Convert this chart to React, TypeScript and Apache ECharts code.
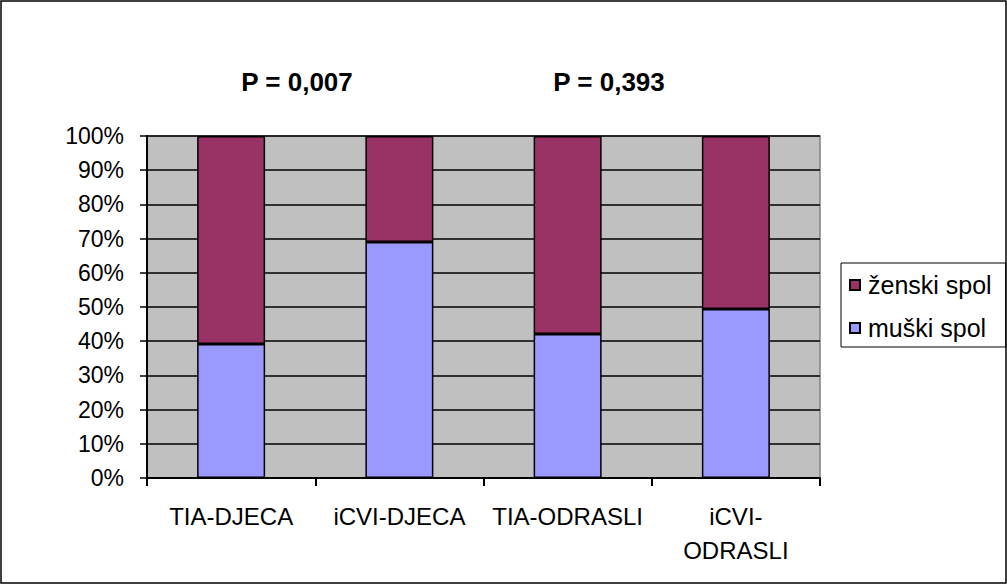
import React, { useEffect, useRef } from "react";
import * as echarts from "echarts";

const categories = ["TIA-DJECA", "iCVI-DJECA", "TIA-ODRASLI", "iCVI-ODRASLI"];
const muskiSpol = [39.2, 69.0, 42.1, 49.4];
const zenskiSpol = [60.8, 31.0, 57.9, 50.6];
const seriesNames = ["ženski spol", "muški spol"];
const pValues = ["P = 0,007", "P = 0,393"];
const pPositions = [297, 609];

const FONT = "'Liberation Sans', Arial, sans-serif";

export default function App() {
  const ref = useRef<HTMLDivElement>(null);
  useEffect(() => {
    document.body.style.margin = "0";
    if (!ref.current) return;
    const chart = echarts.init(ref.current, undefined, { renderer: "svg" });
    chart.setOption({
      animation: false,
      backgroundColor: "#ffffff",
      textStyle: { fontFamily: FONT },
      grid: {
        left: 147,
        right: 187,
        top: 136,
        bottom: 106,
        show: true,
        backgroundColor: "#C0C0C0",
        borderColor: "#808080",
        borderWidth: 1.5,
      },
      legend: {
        orient: "vertical",
        left: 841,
        top: 263,
        data: seriesNames,
        icon: "rect",
        itemWidth: 10,
        itemHeight: 10,
        itemGap: 15,
        borderColor: "#000",
        borderWidth: 1,
        padding: [8, 14, 5, 8],
        textStyle: {
          fontFamily: FONT,
          fontSize: 25,
          color: "#000",
          lineHeight: 28,
          padding: [0, 0, 0, 3],
        },
      },
      xAxis: {
        type: "category",
        data: categories,
        axisLine: { lineStyle: { color: "#000", width: 2 } },
        axisTick: { show: true, length: 8, lineStyle: { color: "#000", width: 2 }, interval: 0 },
        axisLabel: {
          interval: 0,
          color: "#000",
          fontFamily: FONT,
          fontSize: 24,
          margin: 21,
          lineHeight: 34,
          formatter: (v: string) => (v.length > 11 ? v.replace("-", "-\n") : v),
        },
      },
      yAxis: {
        type: "value",
        min: 0,
        max: 100,
        interval: 10,
        axisLine: { show: true, lineStyle: { color: "#000", width: 2 } },
        axisTick: { show: true, length: 7, lineStyle: { color: "#000", width: 1.5 } },
        axisLabel: {
          color: "#000",
          fontFamily: FONT,
          fontSize: 23,
          margin: 23,
          formatter: "{value}%",
        },
        splitLine: { show: true, lineStyle: { color: "#000", width: 1.5 } },
      },
      series: [
        {
          name: seriesNames[1],
          type: "bar",
          stack: "total",
          data: muskiSpol,
          barWidth: 68,
          itemStyle: { color: "#9999FF", borderColor: "#000", borderWidth: 1.5 },
        },
        {
          name: seriesNames[0],
          type: "bar",
          stack: "total",
          data: zenskiSpol,
          barWidth: 68,
          itemStyle: { color: "#993366", borderColor: "#000", borderWidth: 1.5 },
        },
      ],
      graphic: [
        {
          type: "rect",
          shape: { x: 1, y: 1, width: 1005, height: 582 },
          style: { fill: "none", stroke: "#000", lineWidth: 1.5 },
          silent: true,
        },
        ...pValues.map((t, i) => ({
          type: "text",
          x: pPositions[i],
          y: 82,
          style: {
            text: t,
            fontFamily: FONT,
            fontSize: 26,
            fontWeight: "bold",
            fill: "#000",
            textAlign: "center",
            textVerticalAlign: "middle",
          },
        })),
      ],
    });
    return () => chart.dispose();
  }, []);
  return <div ref={ref} style={{ width: 1007, height: 584 }} />;
}
